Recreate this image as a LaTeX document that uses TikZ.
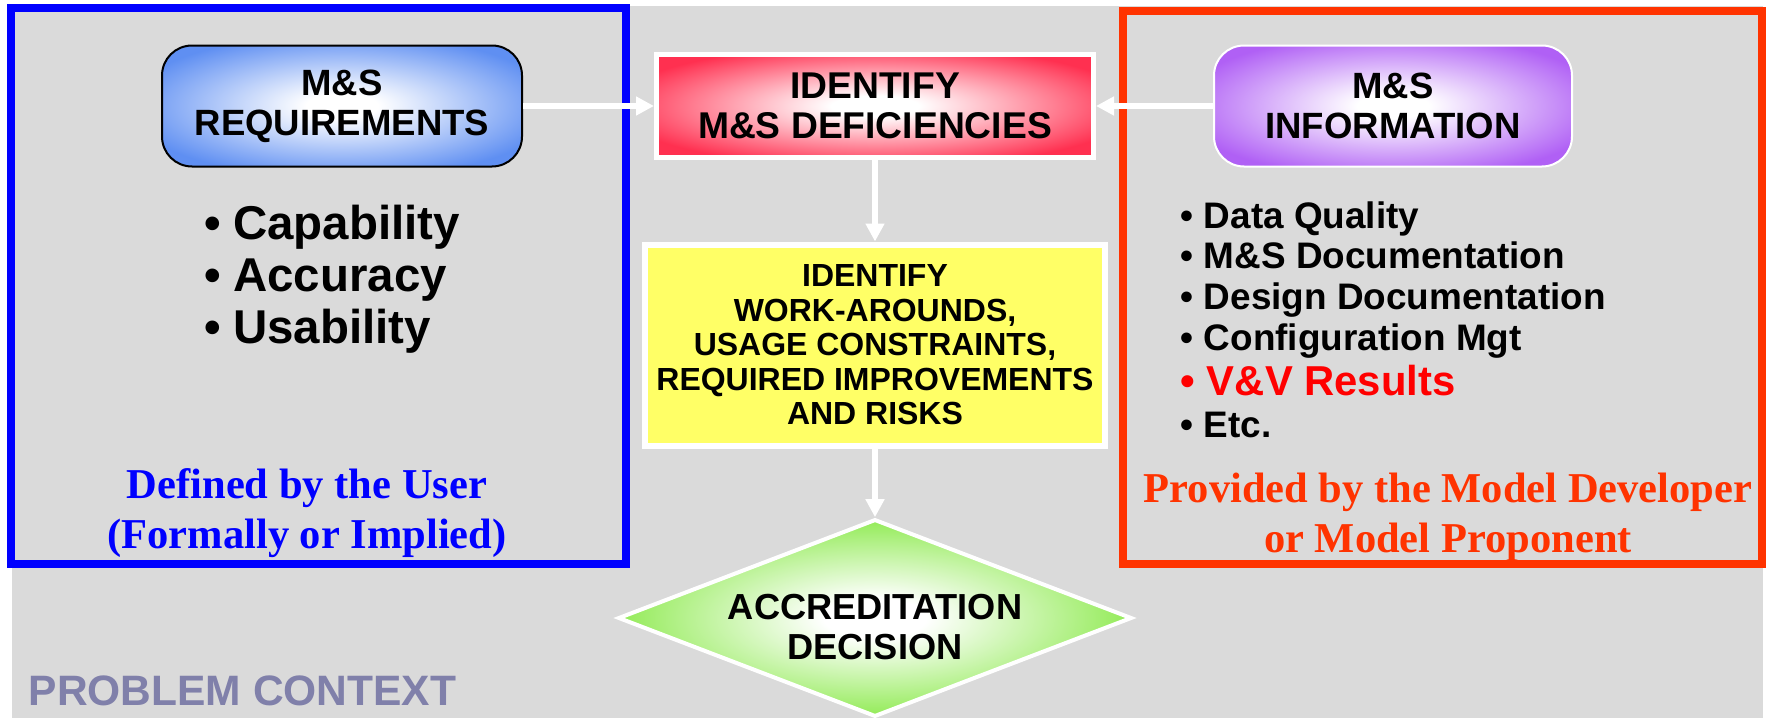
\documentclass[tikz,border=0pt]{standalone}
\usepackage{fontspec}
\setmainfont{Liberation Sans}
\newfontfamily\notefont{Liberation Serif}
\usetikzlibrary{shapes.geometric,arrows.meta}

\definecolor{bggray}{HTML}{DADADA}
\definecolor{userblue}{HTML}{0000FF}
\definecolor{devred}{HTML}{FF3300}
\definecolor{vvred}{HTML}{FF0000}
\definecolor{ctxslate}{HTML}{8080AA}
\definecolor{reqblue}{HTML}{5F8FF2}
\definecolor{infopurple}{HTML}{B060F5}
\definecolor{deficred}{HTML}{FF3050}
\definecolor{decgreen}{HTML}{78E62E}
\definecolor{actyellow}{HTML}{FFFF66}

% white centre fading out to the box colour
\colorlet{glowcolor}{white}
\pgfdeclareradialshading[glowcolor]{glow}{\pgfpointorigin}{color(0bp)=(white); color(5bp)=(white); color(30bp)=(glowcolor); color(50bp)=(glowcolor)}

\begin{document}
\begin{tikzpicture}[x=0.1mm, y=-0.1mm,
    flowarrow/.style={white, line width=0.6mm, -{Triangle[length=1.8mm, width=1.8mm]}},
    glow/.style={/utils/exec={\colorlet{glowcolor}{#1}}, shading=glow},
    roundbox/.style={rectangle, rounded corners=3mm, line width=0.2mm, align=center,
        minimum width=36mm, minimum height=12.1mm, font=\bfseries\fontsize{10.4}{11.4}\selectfont},
    itembig/.style={anchor=base west, inner sep=0pt, font=\bfseries\fontsize{13.5}{16}\selectfont},
    item/.style={anchor=base west, inner sep=0pt, font=\bfseries\fontsize{10.5}{12}\selectfont},
    note/.style={align=center, inner sep=0pt, font=\notefont\bfseries\fontsize{12.1}{14.2}\selectfont}]
    \useasboundingbox (0,0) rectangle (1770,718);
    % Background and the two frames
    \fill[bggray] (12,6) rectangle (1763,718);
    \draw[userblue, line width=0.8mm] (11,8) rectangle (626,564);
    \draw[devred, line width=0.8mm] (1123,11) rectangle (1762,564);
    % Boxes
    \node[roundbox, draw=black, glow=reqblue] (req) at (342,106) {M\&S\\REQUIREMENTS};
    \node[roundbox, draw=white, glow=infopurple, minimum width=35.8mm] (info) at (1393,106) {M\&S\\INFORMATION};
    \node[rectangle, draw=white, line width=0.5mm, glow=deficred, minimum width=43.7mm, minimum height=10.3mm,
        align=center, font=\bfseries\fontsize{10.6}{11.4}\selectfont] (defic) at (875,106) {IDENTIFY\\M\&S DEFICIENCIES};
    \node[rectangle, draw=white, line width=0.6mm, fill=actyellow, minimum width=46mm, minimum height=20.1mm,
        align=center, font=\bfseries\fontsize{9.1}{9.8}\selectfont] (act) at (875,345)
        {IDENTIFY\\WORK-AROUNDS,\\USAGE CONSTRAINTS,\\REQUIRED IMPROVEMENTS\\AND RISKS};
    \node[diamond, draw=white, line width=0.4mm, glow=decgreen, inner sep=0pt, aspect=2.6,
        minimum width=51.1mm, minimum height=19.3mm, align=center,
        font=\bfseries\fontsize{10.3}{11.4}\selectfont] (dec) at (875,618) {\rule{0pt}{4.4mm}ACCREDITATION\\DECISION};
    % Arrows
    \draw[flowarrow] (req) -- (defic);
    \draw[flowarrow] (info) -- (defic);
    \draw[flowarrow] (defic) -- (act);
    \draw[flowarrow] (act) -- (dec);
    % Lists
    \foreach \word [count=\i] in {Capability, Accuracy, Usability}
        \node[itembig] (quality\i) at (204,{239+52*(\i-1)}) {\textbullet\hspace{0.25em}\word};
    \foreach \entry [count=\i] in {Data Quality, M\&S Documentation, Design Documentation, Configuration Mgt}
        \node[item] (source\i) at (1180,{228+40.7*(\i-1)}) {\textbullet\ \entry};
    \node[item, vvred, font=\bfseries\fontsize{11.9}{14}\selectfont] (source5) at (1180,395) {\textbullet\ V\&V Results};
    \node[item] (source6) at (1180,437) {\textbullet\ Etc.};
    % Notes
    \node[note, userblue] (userdef) at (307,513) {Defined by the User\\(Formally or Implied)};
    \node[note, devred] (devdef) at (1448,517) {Provided by the Model Developer\\or Model Proponent};
    \node[anchor=base west, inner sep=0pt, ctxslate, font=\bfseries\fontsize{12.1}{14}\selectfont] (context) at (28,705) {PROBLEM CONTEXT};
\end{tikzpicture}
\end{document}
